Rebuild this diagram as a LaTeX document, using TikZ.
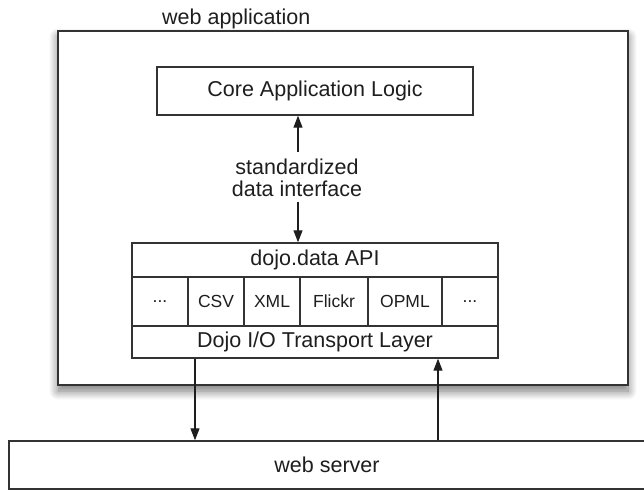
\documentclass[tikz,border=0pt]{standalone}
\usepackage{fontspec}
\setmainfont{Liberation Sans}
\usetikzlibrary{arrows.meta,shadows.blur}
\definecolor{ink}{HTML}{1E1E1E}
\definecolor{edge}{HTML}{333333}
\tikzset{
  box/.style={draw=edge, line width=1.4pt, fill=white, inner sep=0pt, text=ink,
    font=\fontsize{21.5}{22}\selectfont},
  cell/.style={box, line width=1.2pt, font=\fontsize{17.5}{18}\selectfont},
  lbl/.style={inner sep=0pt, text=ink, font=\fontsize{21.5}{22}\selectfont},
  arr/.style={draw=ink, line width=1.1pt, -{Triangle[length=12pt,width=9pt]}},
}
\begin{document}
\begin{tikzpicture}[x=1pt,y=-1pt]
\useasboundingbox (0,0) rectangle (644,492);
% web application container
\node[box, line width=1.8pt, minimum width=570pt, minimum height=354pt,
  blur shadow={shadow xshift=0pt, shadow yshift=-6pt, shadow blur radius=9pt, shadow blur steps=12, shadow opacity=55}]
  (app) at (343,208) {};
\node[lbl, anchor=base west] (applbl) at (162,25) {web application};
% core
\node[box, minimum width=316pt, minimum height=48pt] (core) at (315,91) {Core Application Logic};
% interface label
\node[lbl, align=center] (iface) at (297,178) {standardized\\data interface};
% dojo stack
\node[box, minimum width=366pt, minimum height=34pt] (api) at (315,260) {dojo.data API};
\node[cell, minimum width=56pt, minimum height=49pt] (c1) at (160,301.5) {...};
\node[cell, minimum width=56pt, minimum height=49pt] (c2) at (216,301.5) {CSV};
\node[cell, minimum width=56pt, minimum height=49pt] (c3) at (272,301.5) {XML};
\node[cell, minimum width=68pt, minimum height=49pt] (c4) at (334,301.5) {Flickr};
\node[cell, minimum width=74pt, minimum height=49pt] (c5) at (405,301.5) {OPML};
\node[cell, minimum width=56pt, minimum height=49pt] (c6) at (470,301.5) {...};
\node[box, minimum width=366pt, minimum height=32pt] (transport) at (315,342) {Dojo I/O Transport Layer};
% web server
\node[box, minimum width=636pt, minimum height=48pt] (server) at (327,465) {web server};
% connectors
\coordinate (t1) at (298,152);
\coordinate (t2) at (298,202);
\draw[arr] (t1) -- (t1 |- core.south);
\draw[arr] (t2) -- (t2 |- api.north);
\coordinate (d1) at (195,0);
\coordinate (u1) at (438,0);
\draw[arr] (d1 |- transport.south) -- (d1 |- server.north);
\draw[arr] (u1 |- server.north) -- (u1 |- transport.south);
\end{tikzpicture}
\end{document}
